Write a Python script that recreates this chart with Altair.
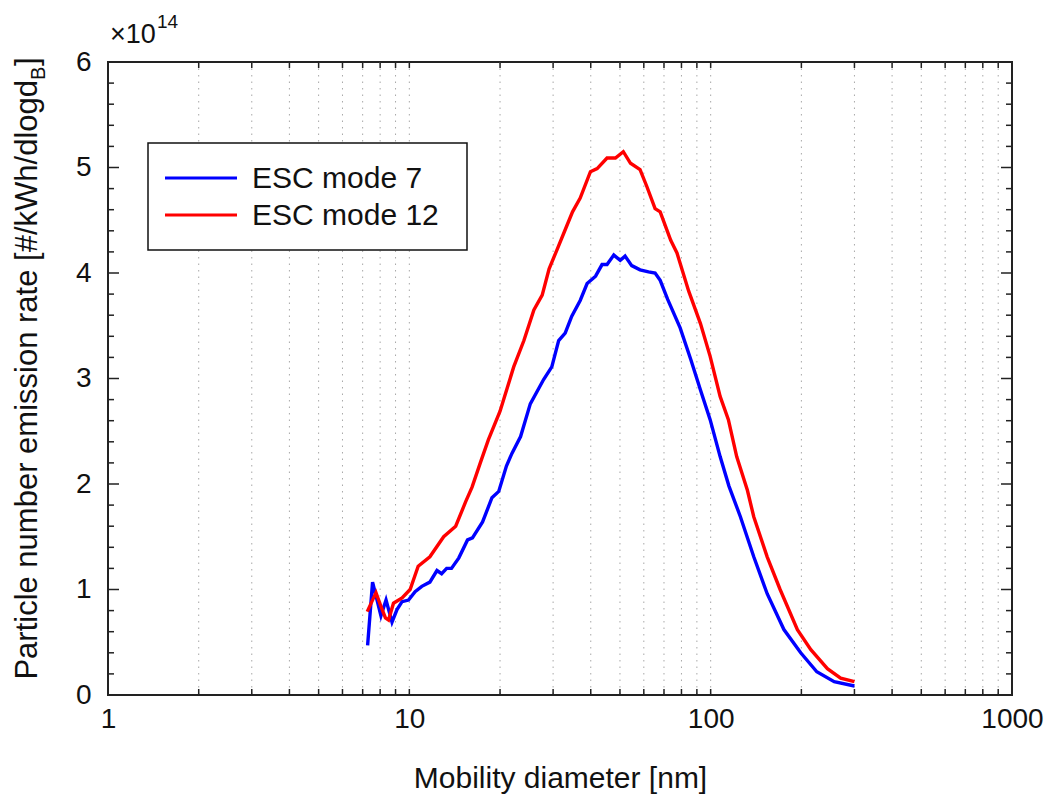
import altair as alt
import pandas as pd

# ---------------- data ----------------
d_mode7 = [7.27, 7.55, 8.05, 8.37, 8.76, 9.1, 9.46, 9.94, 10.45, 11.0, 11.7, 12.35, 12.8,
           13.3, 13.8, 14.6, 15.6, 16.2, 17.5, 18.8, 19.8, 21.0, 21.9, 23.4, 25.2, 27.9,
           29.7, 31.3, 32.9, 34.6, 36.9, 38.9, 41.5, 43.6, 45.3, 47.7, 50.1, 52.0, 54.7,
           58.3, 62.2, 65.4, 68.0, 72.0, 79.2, 85.9, 92.5, 99.6, 107.5, 115.0, 125.5,
           139.0, 154.0, 175.0, 199.0, 225.0, 257.0, 300.0]
v_mode7 = [0.47, 1.07, 0.75, 0.90, 0.69, 0.81, 0.885, 0.90, 0.98, 1.03, 1.07, 1.18, 1.15,
           1.20, 1.20, 1.30, 1.47, 1.49, 1.64, 1.87, 1.93, 2.17, 2.29, 2.45, 2.76, 2.99,
           3.11, 3.36, 3.43, 3.59, 3.74, 3.90, 3.97, 4.08, 4.08, 4.17, 4.12, 4.16, 4.07,
           4.03, 4.01, 4.00, 3.93, 3.75, 3.48, 3.18, 2.89, 2.61, 2.26, 1.98, 1.69,
           1.31, 0.96, 0.62, 0.40, 0.22, 0.126, 0.085]

d_mode12 = [7.25, 7.75, 8.05, 8.33, 8.53, 8.86, 9.46, 10.06, 10.7, 11.7, 13.0, 14.25,
            15.37, 16.15, 17.2, 18.3, 20.0, 22.2, 24.0, 25.9, 27.6, 29.1, 30.9, 32.9,
            34.8, 36.9, 39.9, 42.0, 45.3, 48.3, 51.3, 54.2, 58.3, 61.4, 65.4, 68.0,
            73.7, 77.3, 84.5, 92.5, 99.6, 107.5, 114.5, 122.0, 132.4, 139.0, 154.0,
            170.0, 194.0, 215.0, 244.0, 270.0, 300.0]
v_mode12 = [0.79, 0.97, 0.84, 0.73, 0.71, 0.87, 0.92, 1.00, 1.22, 1.31, 1.50, 1.60,
            1.83, 1.97, 2.20, 2.42, 2.69, 3.11, 3.36, 3.65, 3.79, 4.04, 4.22, 4.41,
            4.58, 4.71, 4.96, 4.99, 5.09, 5.09, 5.15, 5.04, 4.98, 4.82, 4.61, 4.58,
            4.31, 4.19, 3.83, 3.52, 3.21, 2.83, 2.61, 2.26, 1.94, 1.69, 1.31,
            1.00, 0.62, 0.43, 0.25, 0.16, 0.126]

series_names = ["ESC mode 7", "ESC mode 12"]
series_colors = ["#0000ff", "#ff0000"]

x_label_values = [1, 10, 100, 1000]
x_minor_values = [2, 3, 4, 5, 6, 7, 8, 9, 10, 20, 30, 40, 50, 60, 70, 80, 90, 100,
                  200, 300, 400, 500, 600, 700, 800, 900]
y_label_values = [0, 1, 2, 3, 4, 5, 6]
y_minor_values = [0.2, 0.4, 0.6, 0.8, 1.2, 1.4, 1.6, 1.8, 2.2, 2.4, 2.6, 2.8,
                  3.2, 3.4, 3.6, 3.8, 4.2, 4.4, 4.6, 4.8, 5.2, 5.4, 5.6, 5.8]
y_major_values = [1, 2, 3, 4, 5]

x_title = "Mobility diameter [nm]"
y_title_main = "Particle number emission rate [#/kWh/dlogd"
y_title_sub = "B"
y_title_end = "]"
exp_base = "×10"
exp_power = "14"

# ---------------- layout ----------------
W, H = 904, 633
FONT = "Liberation Sans"

lines_df = pd.concat([
    pd.DataFrame({"d": d_mode7, "v": v_mode7, "series": series_names[0]}),
    pd.DataFrame({"d": d_mode12, "v": v_mode12, "series": series_names[1]}),
])

xscale = alt.Scale(type="log", domain=[1, 1000], nice=False)
yscale = alt.Scale(domain=[0, 6], nice=False, zero=False)
xaxis = alt.Axis(values=x_label_values, labelExpr="format(datum.value, 'd')",
                 ticks=False, domain=False, grid=False, labelFont=FONT,
                 labelFontSize=28, labelColor="#111", labelPadding=10,
                 title=x_title, titleFont=FONT, titleFontSize=30,
                 titleFontWeight="normal", titleColor="#111", titlePadding=30,
                 labelFlush=False)
yaxis = alt.Axis(values=y_label_values, format="d", ticks=False, domain=False,
                 grid=False, labelFont=FONT, labelFontSize=28, labelColor="#111",
                 labelPadding=17, title=None)

X = lambda f: alt.X(f"{f}:Q", scale=xscale, axis=xaxis)
Y = lambda f: alt.Y(f"{f}:Q", scale=yscale, axis=yaxis)

grid = alt.Chart(pd.DataFrame({"d": x_minor_values})).mark_rule(
    color="#a8a8a8", strokeWidth=1, strokeDash=[1.5, 5]
).encode(x=X("d"))

lines = alt.Chart(lines_df).mark_line(strokeWidth=3.4).encode(
    x=X("d"), y=Y("v"),
    color=alt.Color("series:N", scale=alt.Scale(domain=series_names, range=series_colors),
                    legend=None),
    detail="series:N",
    order=alt.Order("d:Q"),
)

tick_color = "#222"
xt_df = pd.DataFrame({"d": x_minor_values})
xticks_bottom = alt.Chart(xt_df).mark_rule(color=tick_color, strokeWidth=1.5).encode(
    x=X("d"), y=alt.value(H), y2=alt.value(H - 6))
xticks_top = alt.Chart(xt_df).mark_rule(color=tick_color, strokeWidth=1.5).encode(
    x=X("d"), y=alt.value(0), y2=alt.value(6))

ymin_df = pd.DataFrame({"v": y_minor_values})
ymaj_df = pd.DataFrame({"v": y_major_values})
yt_left_min = alt.Chart(ymin_df).mark_rule(color=tick_color, strokeWidth=1.5).encode(
    y=Y("v"), x=alt.value(0), x2=alt.value(6))
yt_left_maj = alt.Chart(ymaj_df).mark_rule(color=tick_color, strokeWidth=1.5).encode(
    y=Y("v"), x=alt.value(0), x2=alt.value(11))
yt_right_min = alt.Chart(ymin_df).mark_rule(color=tick_color, strokeWidth=1.5).encode(
    y=Y("v"), x=alt.value(W), x2=alt.value(W - 6))
yt_right_maj = alt.Chart(ymaj_df).mark_rule(color=tick_color, strokeWidth=1.5).encode(
    y=Y("v"), x=alt.value(W), x2=alt.value(W - 11))

# ---------------- manual legend ----------------
one = pd.DataFrame({"k": [0]})
leg_box = alt.Chart(one).mark_rect(fill="white", stroke="#111", strokeWidth=1.5).encode(
    x=alt.value(40), x2=alt.value(359), y=alt.value(81), y2=alt.value(188))
leg_items = []
for i, (name, col) in enumerate(zip(series_names, series_colors)):
    yy = 116 + 37 * i
    leg_items.append(alt.Chart(one).mark_rule(color=col, strokeWidth=3).encode(
        x=alt.value(57), x2=alt.value(129), y=alt.value(yy)))
    leg_items.append(alt.Chart(pd.DataFrame({"t": [name]})).mark_text(
        font=FONT, fontSize=30, align="left", baseline="middle", color="#111").encode(
        x=alt.value(144), y=alt.value(yy + 1), text="t:N"))

# ---------------- exponent label ----------------
exp1 = alt.Chart(pd.DataFrame({"t": [exp_base]})).mark_text(
    font=FONT, fontSize=27, align="left", baseline="alphabetic", color="#111").encode(
    x=alt.value(2), y=alt.value(-19), text="t:N")
exp2 = alt.Chart(pd.DataFrame({"t": [exp_power]})).mark_text(
    font=FONT, fontSize=19, align="left", baseline="alphabetic", color="#111").encode(
    x=alt.value(49), y=alt.value(-34), text="t:N")

# ---------------- y title with subscript ----------------
yt_main = alt.Chart(pd.DataFrame({"t": [y_title_main]})).mark_text(
    font=FONT, fontSize=31, angle=270, align="right", baseline="alphabetic",
    color="#111").encode(x=alt.value(-71), y=alt.value(18), text="t:N")
yt_sub = alt.Chart(pd.DataFrame({"t": [y_title_sub]})).mark_text(
    font=FONT, fontSize=20, angle=270, align="left", baseline="alphabetic",
    color="#111").encode(x=alt.value(-63), y=alt.value(18), text="t:N")
yt_end = alt.Chart(pd.DataFrame({"t": [y_title_end]})).mark_text(
    font=FONT, fontSize=31, angle=270, align="left", baseline="alphabetic",
    color="#111").encode(x=alt.value(-71), y=alt.value(4), text="t:N")

chart = alt.layer(
    grid, lines, xticks_bottom, xticks_top, yt_left_min, yt_left_maj,
    yt_right_min, yt_right_maj, leg_box, *leg_items, exp1, exp2,
    yt_main, yt_sub, yt_end,
).properties(
    width=W, height=H,
    autosize=alt.AutoSizeParams(type="none"),
    padding={"left": 108, "top": 62, "right": 35, "bottom": 100},
    background="white",
).configure_view(stroke="#222", strokeWidth=2)

chart.save("out.html", embed_options={"renderer": "svg", "actions": False})
